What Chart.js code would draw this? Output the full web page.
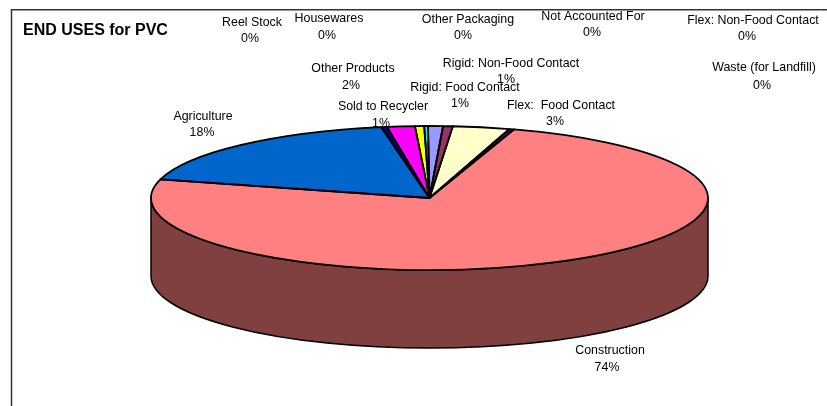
<!DOCTYPE html>
<html>
<head>
<meta charset="utf-8">
<title>END USES for PVC</title>
<script src="https://cdn.jsdelivr.net/npm/chart.js@4"></script>
<style>
  html, body { margin: 0; padding: 0; background: #fff; overflow: hidden; }
  canvas { display: block; }
</style>
</head>
<body>
<canvas id="pvcChart" width="827" height="406"></canvas>
<script>
const chartTitle = "END USES for PVC";

const categories = [
  "Construction", "Agriculture", "Sold to Recycler", "Other Products",
  "Housewares", "Reel Stock", "Rigid: Food Contact", "Rigid: Non-Food Contact",
  "Flex:  Food Contact", "Flex: Non-Food Contact", "Other Packaging",
  "Not Accounted For", "Waste (for Landfill)"
];
const shares = [74.2, 18.05, 0.35, 1.6, 0.53, 0.22, 0.86, 0.56, 3.3, 0.28, 0, 0, 0];
const percentLabels = ["74%", "18%", "1%", "2%", "0%", "0%", "1%", "1%", "3%", "0%", "0%", "0%", "0%"];

const sliceColors = [
  "#FF8080", "#0066CC", "#000080", "#FF00FF", "#FFFF00", "#00FFFF",
  "#9999FF", "#993366", "#FFFFCC", "#660066", "#CCFFFF", "#CCCCFF", "#FF99CC"
];

// where Excel left each label: name x, name y, percent x, percent y (same order as categories)
const labelSpots = [
  [610, 351, 607, 368], [203, 117, 202, 133], [383, 107, 381, 124], [353, 69, 351, 86],
  [329, 19, 327, 36], [252, 23, 250, 39], [465, 88, 460, 104], [511, 64, 506, 80],
  [561, 106, 555, 122], [753, 21, 747, 37], [468, 20, 463, 36], [593, 17, 592, 33],
  [764, 68, 762, 86]
];

const tilt = 72 / 278.5; // height/width of the pie top
const depth = 78;
const wallColor = "#804040";

// squash the pie into an ellipse and give it a side wall
const tiltPlugin = {
  id: "tilt",
  beforeDatasetsDraw(chart) {
    const ctx = chart.ctx;
    const arcs = chart.getDatasetMeta(0).data;
    ctx.save();
    ctx.fillStyle = wallColor;
    ctx.strokeStyle = "#000";
    ctx.lineWidth = 1.5;
    arcs.forEach((arc) => {
      const from = Math.max(arc.startAngle, 0);
      const to = Math.min(arc.endAngle, Math.PI);
      if (to <= from) return;
      const r = arc.outerRadius;
      ctx.beginPath();
      ctx.ellipse(arc.x, arc.y, r, r * tilt, 0, from, to);
      ctx.ellipse(arc.x, arc.y + depth, r, r * tilt, 0, to, from, true);
      ctx.closePath();
      ctx.fill();
      ctx.stroke();
    });
    ctx.restore();

    const c = arcs[0];
    ctx.save();
    ctx.translate(c.x, c.y);
    ctx.scale(1, tilt);
    ctx.translate(-c.x, -c.y);
  },
  afterDatasetsDraw(chart) {
    const ctx = chart.ctx;
    ctx.restore();

    // outlines go here so the line width is not squashed too
    ctx.save();
    ctx.strokeStyle = "#000";
    ctx.lineWidth = 1.8;
    ctx.lineJoin = "round";
    chart.getDatasetMeta(0).data.forEach((arc) => {
      if (arc.endAngle - arc.startAngle <= 0) return;
      const r = arc.outerRadius;
      ctx.beginPath();
      ctx.moveTo(arc.x, arc.y);
      ctx.ellipse(arc.x, arc.y, r, r * tilt, 0, arc.startAngle, arc.endAngle);
      ctx.closePath();
      ctx.stroke();
    });
    ctx.restore();
  },
};

const labelsPlugin = {
  id: "pieLabels",
  afterDraw(chart) {
    const ctx = chart.ctx;
    ctx.save();

    // chart frame, only left and top are inside the picture
    ctx.strokeStyle = "#333";
    ctx.lineWidth = 1.5;
    ctx.beginPath();
    ctx.moveTo(11.5, 406);
    ctx.lineTo(11.5, 9.75);
    ctx.lineTo(827, 9.75);
    ctx.stroke();

    ctx.fillStyle = "#000";
    ctx.textBaseline = "middle";
    ctx.textAlign = "left";
    ctx.font = "bold 16px 'Liberation Sans', Arial, sans-serif";
    ctx.fillText(chartTitle, 23, 31);

    ctx.textAlign = "center";
    ctx.font = "12.4px 'Liberation Sans', Arial, sans-serif";
    categories.forEach((name, i) => {
      const spot = labelSpots[i];
      ctx.fillText(name, spot[0], spot[1]);
      ctx.fillText(percentLabels[i], spot[2], spot[3]);
    });
    ctx.restore();
  },
};

new Chart(document.getElementById("pvcChart"), {
  type: "pie",
  data: {
    labels: categories,
    datasets: [
      {
        data: shares,
        backgroundColor: sliceColors,
        borderWidth: 0,
        clip: false,
      },
    ],
  },
  options: {
    responsive: false,
    animation: false,
    rotation: 17.7,
    radius: 278.5,
    layout: { padding: { left: 32, right: 0, top: 0, bottom: 10 } },
    plugins: {
      legend: { display: false },
      tooltip: { enabled: false },
    },
  },
  plugins: [tiltPlugin, labelsPlugin],
});
</script>
</body>
</html>
